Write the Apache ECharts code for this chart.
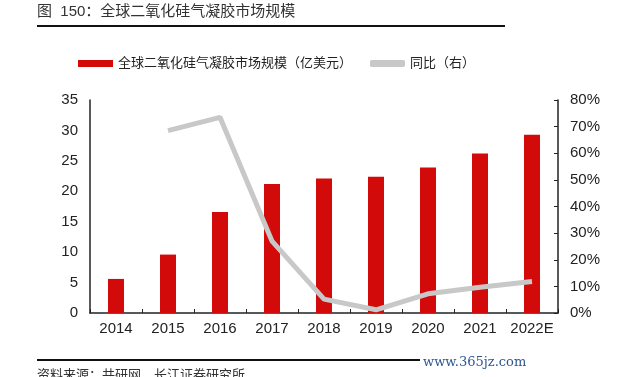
<!DOCTYPE html>
<html>
<head>
<meta charset="utf-8">
<script src="https://cdn.jsdelivr.net/npm/echarts@6/dist/echarts.min.js"></script>
<style>
html, body { margin: 0; padding: 0; background: #fff; }
#main { width: 640px; height: 377px; }
</style>
</head>
<body>
<div id="main"></div>
<script>
// 数据
var years = ['2014', '2015', '2016', '2017', '2018', '2019', '2020', '2021', '2022E'];
var scaleData = [5.6, 9.6, 16.6, 21.2, 22.1, 22.4, 23.9, 26.2, 29.3];
var yoyData = [null, 68.5, 73.5, 27, 5.2, 1.2, 7.2, 9.7, 11.8];
var leftTicks = [0, 35, 5];
var rightTicks = [0, 80, 10];

var FONT = 'Liberation Sans, Noto Sans CJK SC, sans-serif';

var chart = echarts.init(document.getElementById('main'));
var option = {
    backgroundColor: '#fff',
    animation: false,
    textStyle: { fontFamily: FONT },
    graphic: [
        {
            type: 'text', left: 37, top: 4,
            style: { text: '图  150：全球二氧化硅气凝胶市场规模', font: '15px ' + FONT, fill: '#333' }
        },
        {
            type: 'line', shape: { x1: 37, y1: 26, x2: 505, y2: 26 },
            style: { stroke: '#111', lineWidth: 2 }
        },
        {
            type: 'line', shape: { x1: 37, y1: 360, x2: 420, y2: 360 },
            style: { stroke: '#111', lineWidth: 2 }
        },
        {
            type: 'text', left: 423, top: 356,
            style: { text: 'www.365jz.com', font: '13px DejaVu Serif, serif', fill: '#2b5592' }
        },
        {
            type: 'text', left: 37, top: 369,
            style: { text: '资料来源：共研网，长江证券研究所', font: '13px ' + FONT, fill: '#333' }
        }
    ],
    legend: {
        top: 52,
        left: 73,
        itemWidth: 35,
        itemHeight: 7,
        itemGap: 18,
        textStyle: { fontSize: 13, color: '#222', fontFamily: FONT },
        data: [
            { name: '全球二氧化硅气凝胶市场规模（亿美元）', icon: 'rect' },
            { name: '同比（右）', icon: 'roundRect' }
        ]
    },
    grid: { left: 90, right: 82, top: 100, bottom: 64 },
    xAxis: {
        type: 'category',
        data: years,
        axisLine: { lineStyle: { color: '#222', width: 1.5 } },
        axisTick: { show: true, inside: true, length: 4, lineStyle: { color: '#222' } },
        axisLabel: { fontSize: 15, color: '#222', margin: 8, interval: 0 }
    },
    yAxis: [
        {
            type: 'value',
            min: leftTicks[0], max: leftTicks[1], interval: leftTicks[2],
            axisLine: { show: true, lineStyle: { color: '#222', width: 1.5 } },
            axisTick: { show: false },
            splitLine: { show: false },
            axisLabel: { fontSize: 15, color: '#222', margin: 12 }
        },
        {
            type: 'value',
            min: rightTicks[0], max: rightTicks[1], interval: rightTicks[2],
            axisLine: { show: true, lineStyle: { color: '#222', width: 1.5 } },
            axisTick: { show: true, inside: true, length: 4, lineStyle: { color: '#222' } },
            splitLine: { show: false },
            axisLabel: { fontSize: 15, color: '#222', margin: 12, formatter: '{value}%' }
        }
    ],
    series: [
        {
            name: '全球二氧化硅气凝胶市场规模（亿美元）',
            type: 'bar',
            data: scaleData,
            barWidth: 16,
            itemStyle: { color: '#d20a0a' }
        },
        {
            name: '同比（右）',
            type: 'line',
            yAxisIndex: 1,
            data: yoyData,
            symbol: 'none',
            connectNulls: false,
            lineStyle: { color: '#c8c8c8', width: 5 },
            itemStyle: { color: '#c8c8c8' }
        }
    ]
};
chart.setOption(option);
</script>
</body>
</html>
